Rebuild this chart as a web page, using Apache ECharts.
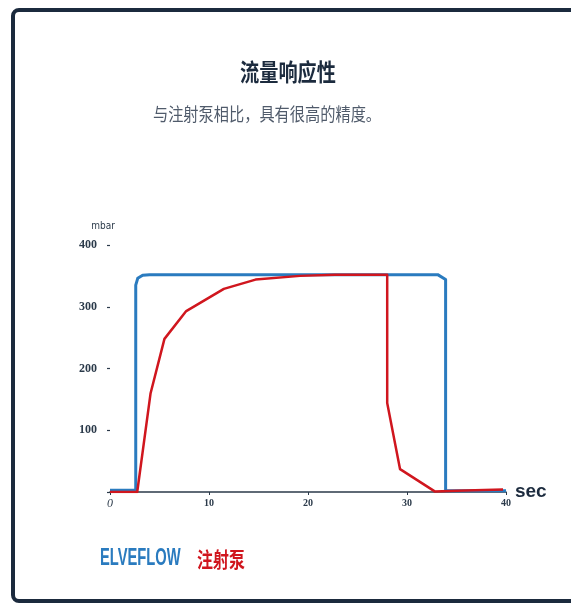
<!DOCTYPE html>
<html><head><meta charset="utf-8">
<script src="https://cdn.jsdelivr.net/npm/echarts@6/dist/echarts.min.js"></script>
<style>
html,body{margin:0;padding:0;background:#fff;width:571px;height:603px;overflow:hidden;}
#card{position:absolute;left:11px;top:8px;width:600px;height:595px;border:4px solid #1b2a3d;border-radius:8px;box-sizing:border-box;}
#chart{position:absolute;left:0;top:0;width:571px;height:603px;}
</style></head>
<body>
<div id="card"></div>
<div id="chart"></div>
<script>
const titleText = '流量响应性';
const subtitleText = '与注射泵相比，具有很高的精度。';
const seriesNames = ['ELVEFLOW', '注射泵'];
const xTicks = [0, 10, 20, 30, 40];
const yTicks = [100, 200, 300, 400];
// [sec, mbar]
const elveflow = [[0,3],[2.6,3],[2.6,335],[2.8,346],[3.3,351],[4,352],[33.1,352],[33.9,344],[33.9,2],[40,2]];
const syringe = [[0,0],[2.75,0],[4.1,160],[5.5,248],[7.7,293],[11.5,329],[14.7,344],[19.2,350],[22.7,352],[28,352],[28,144],[29.3,37],[32.8,1],[35,2],[39.7,4]];
const colors = ['#2a7bbf', '#d0161e'];

const chart = echarts.init(document.getElementById('chart'));
chart.setOption({
  animation:false,
  graphic:[
    {type:'text',x:288,y:72,scaleX:0.8,style:{text:titleText,align:'center',verticalAlign:'middle',font:'bold 24px "Noto Sans CJK SC"',fill:'#1c2b3e'}},
    {type:'text',x:267,y:114,scaleX:0.845,style:{text:subtitleText,align:'center',verticalAlign:'middle',font:'18px "Noto Sans CJK SC"',fill:'#505b6b'}},
    {type:'text',x:100,y:559,scaleX:0.64,style:{text:seriesNames[0],align:'left',verticalAlign:'middle',font:'bold 23px "Liberation Sans"',fill:colors[0]}},
    {type:'text',x:197,y:559,scaleX:0.76,style:{text:seriesNames[1],align:'left',verticalAlign:'middle',font:'bold 21px "Noto Sans CJK SC"',fill:colors[1]}}
  ],
  grid:{left:110,right:65,top:245,bottom:111,containLabel:false},
  xAxis:{
    type:'value',min:0,max:40,interval:10,
    name:'sec',nameLocation:'end',nameGap:6,
    nameTextStyle:{fontFamily:'Liberation Sans',fontWeight:'bold',fontSize:19,color:'#1c2b3e',verticalAlign:'middle',padding:[0,0,6,0]},
    axisLine:{show:true,lineStyle:{color:'#2b3a4a',width:1.5}},
    axisTick:{show:true,length:3,lineStyle:{color:'#2b3a4a'}},
    splitLine:{show:false},
    axisLabel:{margin:6,fontFamily:'Liberation Serif',fontWeight:'bold',fontSize:10,color:'#2b3a4a',
      formatter:function(v){return v===0?'{i|0}':String(v);},
      rich:{i:{fontStyle:'italic',fontWeight:'normal',fontFamily:'Liberation Serif',fontSize:12,color:'#2b3a4a'}}}
  },
  yAxis:{
    type:'value',min:0,max:400,interval:100,
    name:'mbar',nameLocation:'end',nameGap:14,
    nameTextStyle:{fontFamily:'DejaVu Sans Condensed',fontSize:10,color:'#2b3a4a',align:'center',padding:[0,14,0,0]},
    axisLine:{show:false},
    axisTick:{show:true,inside:false,length:3,lineStyle:{color:'#2b3a4a',width:1.2}},
    splitLine:{show:false},
    axisLabel:{margin:13,fontFamily:'Liberation Serif',fontWeight:'bold',fontSize:12,color:'#2b3a4a',
      formatter:function(v){return yTicks.indexOf(v)>=0?String(v):'';}}
  },
  series:[
    {name:seriesNames[0],type:'line',data:elveflow,symbol:'none',color:colors[0],lineStyle:{width:3,color:colors[0],join:'round'},z:2},
    {name:seriesNames[1],type:'line',data:syringe,symbol:'none',color:colors[1],lineStyle:{width:2.5,color:colors[1],join:'round'},z:3}
  ]
});
</script>
</body></html>
